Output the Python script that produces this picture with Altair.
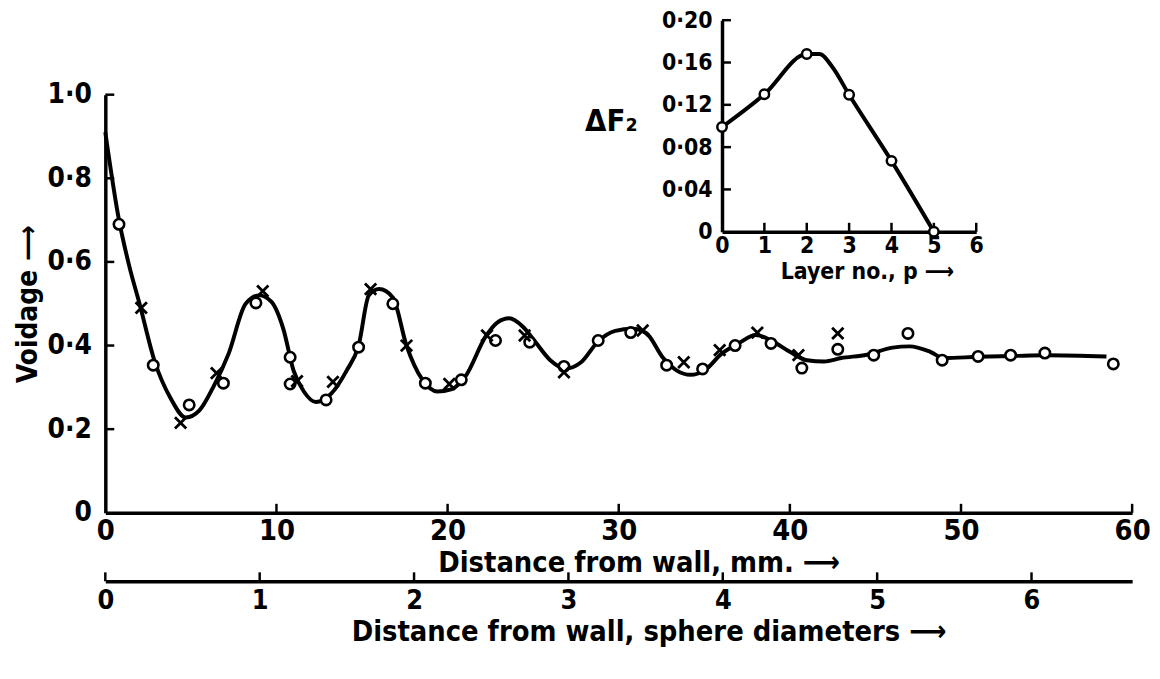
import altair as alt
import pandas as pd

# ---------------- data ----------------
curve_x = [0.0, 0.8, 1.4, 2.0, 2.9, 3.8, 4.7, 5.5, 6.3, 7.2, 8.2, 9.0, 9.7, 10.4,
           11.0, 11.6, 12.3, 13.2, 14.1, 14.8, 15.4, 16.0, 16.8, 17.6, 18.5, 19.4, 20.2,
           21.1, 22.2, 22.9, 23.6, 24.4, 25.1, 26.0, 26.9, 27.8, 28.8, 29.8, 30.8, 31.6,
           32.6, 33.4, 34.2, 35.0, 36.0, 37.0, 38.0, 39.0, 40.0, 41.0, 42.0, 43.0, 44.5,
           46.0, 47.0, 48.2, 49.0, 51.0, 53.0, 55.0, 58.5]
curve_y = [0.91, 0.70, 0.59, 0.50, 0.36, 0.275, 0.228, 0.245, 0.30, 0.38, 0.50, 0.52,
           0.505, 0.44, 0.34, 0.29, 0.265, 0.285, 0.34, 0.40, 0.52, 0.535, 0.515, 0.40,
           0.32, 0.29, 0.295, 0.33, 0.42, 0.455, 0.465, 0.445, 0.41, 0.365, 0.345, 0.36,
           0.41, 0.435, 0.44, 0.43, 0.37, 0.34, 0.33, 0.34, 0.38, 0.405, 0.425, 0.41,
           0.385, 0.365, 0.362, 0.37, 0.378, 0.395, 0.398, 0.385, 0.37, 0.373, 0.375,
           0.377, 0.374]

circle_x = [0.8, 2.8, 4.9, 6.9, 8.8, 10.8, 10.8, 12.9, 14.8, 16.8, 18.7, 20.8, 22.8, 24.8,
            26.8, 28.8, 30.7, 32.8, 34.9, 36.8, 38.9, 40.7, 42.8, 44.9, 46.9, 48.9, 51.0,
            52.9, 54.9, 58.9]
circle_y = [0.69, 0.353, 0.258, 0.31, 0.502, 0.372, 0.308, 0.27, 0.396, 0.50, 0.31, 0.318,
            0.412, 0.408, 0.35, 0.412, 0.431, 0.353, 0.344, 0.40, 0.405, 0.346, 0.391,
            0.377, 0.429, 0.365, 0.374, 0.377, 0.382, 0.356]

cross_x = [2.1, 4.4, 6.5, 9.2, 11.2, 13.3, 15.5, 17.6, 20.1, 22.3, 24.5, 26.8, 31.4, 33.8,
           35.9, 38.1, 40.5, 42.8]
cross_y = [0.49, 0.215, 0.334, 0.53, 0.315, 0.313, 0.535, 0.40, 0.308, 0.424, 0.424, 0.336,
           0.436, 0.36, 0.389, 0.431, 0.377, 0.429]

mm_ticks = [0, 10, 20, 30, 40, 50, 60]
voidage_ticks = [0, 0.2, 0.4, 0.6, 0.8, 1.0]
sphere_ticks = [0, 1, 2, 3, 4, 5, 6]
MM_PER_DIAMETER = 9.02

layer_p = [0, 1, 2, 3, 4, 5]
layer_dF = [0.099, 0.130, 0.168, 0.1295, 0.067, 0.0]
inset_curve_p = [0, 1, 2, 2.3, 2.6, 3, 4, 5]
inset_curve_dF = [0.099, 0.130, 0.168, 0.168, 0.156, 0.1295, 0.067, 0.0]
inset_p_ticks = [0, 1, 2, 3, 4, 5, 6]
inset_dF_ticks = [0, 0.04, 0.08, 0.12, 0.16, 0.20]

# ---------------- layout / style ----------------
W, H = 1034, 421
FONT = "Liberation Sans Narrow, DejaVu Sans Condensed, Liberation Sans, sans-serif"
INK = "black"
AXW = 3.5
TICK_PX = 9

curve_df = pd.DataFrame({"x": curve_x, "y": curve_y})
circ_df = pd.DataFrame({"x": circle_x, "y": circle_y})
cross_df = pd.DataFrame({"x": cross_x, "y": cross_y})
xt_df = pd.DataFrame({"x": mm_ticks[1:]})
yt_df = pd.DataFrame({"y": voidage_ticks[1:]})
sp_df = pd.DataFrame({"s": sphere_ticks})
ins_pts = pd.DataFrame({"p": layer_p, "d": layer_dF})
ins_curve = pd.DataFrame({"p": inset_curve_p, "d": inset_curve_dF})
ins_xt = pd.DataFrame({"p": inset_p_ticks[1:]})
ins_yt = pd.DataFrame({"d": inset_dF_ticks[1:]})

def axis_common(**kw):
    base = dict(grid=False, ticks=False, tickSize=0, domainColor=INK, domainWidth=AXW,
                labelFont=FONT, labelFontWeight="bold", labelColor=INK,
                titleFont=FONT, titleFontWeight="bold", titleColor=INK)
    base.update(kw)
    return alt.Axis(**base)

xscale = alt.Scale(domain=[0, 60], nice=False, zero=False)
yscale = alt.Scale(domain=[0, 1], nice=False)

xaxis = axis_common(orient="bottom", values=mm_ticks, format="d", labelFontSize=29,
                    labelPadding=4, title="Distance from wall, mm. ⟶", titleFontSize=29,
                    titlePadding=3, labelFlush=False, titleX=W / 2 + 20)
yaxis = axis_common(orient="left", values=voidage_ticks, labelFontSize=28, labelPadding=14,
                    labelExpr="datum.value == 0 ? '0' : replace(format(datum.value, '.1f'), '.', '·')",
                    title="Voidage ⟶", titleFontSize=28, titlePadding=5)

X = alt.X("x:Q", scale=xscale, axis=xaxis)
Y = alt.Y("y:Q", scale=yscale, axis=yaxis)

line = alt.Chart(curve_df).mark_line(color=INK, strokeWidth=4, interpolate="monotone").encode(x=X, y=Y)
circles = alt.Chart(circ_df).mark_point(shape="circle", size=110, fill="white", fillOpacity=1,
                                        stroke=INK, strokeWidth=2.6, opacity=1).encode(x=X, y=Y)
crosses = alt.Chart(cross_df).mark_point(shape="M -1 -1 L 1 1 M 1 -1 L -1 1", size=130,
                                         filled=False, stroke=INK, strokeWidth=2.8,
                                         opacity=1).encode(x=X, y=Y)
xticks = alt.Chart(xt_df).mark_rule(color=INK, strokeWidth=2.5).encode(
    x=X, y=alt.YDatum(0, scale=yscale, axis=yaxis), y2=alt.Y2Datum(TICK_PX / H))
yticks = alt.Chart(yt_df).mark_rule(color=INK, strokeWidth=2.5).encode(
    y=Y, x=alt.XDatum(0, scale=xscale, axis=xaxis), x2=alt.X2Datum(TICK_PX * 60 / W))

main = alt.layer(line, xticks, yticks, circles, crosses)

# second (sphere diameter) axis
SP_OFF = 69
sp_scale = alt.Scale(domain=[0, 60 / MM_PER_DIAMETER], nice=False, zero=False)
sp_axis = axis_common(orient="bottom", offset=SP_OFF, values=sphere_ticks, format="d",
                      labelFontSize=27, labelPadding=6, labelFlush=False,
                      title="Distance from wall, sphere diameters ⟶", titleFontSize=29,
                      titlePadding=5, titleX=W / 2 + 30)
sphere = alt.Chart(sp_df).mark_rule(color=INK, strokeWidth=2.5).encode(
    x=alt.X("s:Q", scale=sp_scale, axis=sp_axis),
    y=alt.YDatum(-SP_OFF / H, scale=alt.Scale(domain=[0, 1], nice=False), axis=None),
    y2=alt.Y2Datum((-SP_OFF + TICK_PX) / H),
)

# inset
IX0, IX1 = 621, 877
IY0, IY1 = 138, -75
ix_scale = alt.Scale(domain=[0, 6], range=[IX0, IX1], nice=False, zero=False)
iy_scale = alt.Scale(domain=[0, 0.2], range=[IY0, IY1], nice=False, zero=False)
ix_axis = axis_common(orient="bottom", offset=IY0 - H, values=inset_p_ticks, format="d",
                      labelFontSize=23, labelPadding=3, labelFlush=False,
                      title="Layer no., p ⟶", titleFontSize=23, titlePadding=3,
                      titleX=(IX0 + IX1) / 2 + 18)
iy_axis = axis_common(orient="left", offset=-IX0, values=inset_dF_ticks, labelFontSize=23,
                      labelPadding=10,
                      labelExpr="datum.value == 0 ? '0' : replace(format(datum.value, '.2f'), '.', '·')",
                      title="ΔF₂", titleFontSize=31, titleAngle=0, titleAlign="center",
                      titleBaseline="middle", titleX=-112, titleY=27)
IXE = alt.X("p:Q", scale=ix_scale, axis=ix_axis)
IYE = alt.Y("d:Q", scale=iy_scale, axis=iy_axis)

iline = alt.Chart(ins_curve).mark_line(color=INK, strokeWidth=4, interpolate="monotone").encode(x=IXE, y=IYE)
ipts = alt.Chart(ins_pts).mark_point(shape="circle", size=90, fill="white", fillOpacity=1,
                                     stroke=INK, strokeWidth=2.5, opacity=1).encode(x=IXE, y=IYE)
ixt = alt.Chart(ins_xt).mark_rule(color=INK, strokeWidth=2.5).encode(
    x=IXE, y=alt.YDatum(0, scale=iy_scale, axis=iy_axis), y2=alt.Y2Datum(0.2 * TICK_PX / (IY0 - IY1)))
iyt = alt.Chart(ins_yt).mark_rule(color=INK, strokeWidth=2.5).encode(
    y=IYE, x=alt.XDatum(0, scale=ix_scale, axis=ix_axis), x2=alt.X2Datum(6 * TICK_PX / (IX1 - IX0)))

inset = alt.layer(iline, ixt, iyt, ipts)

chart = alt.layer(main, sphere, inset).resolve_scale(
    x="independent", y="independent"
).properties(
    width=W, height=H,
    autosize=alt.AutoSizeParams(type="none"),
    padding={"left": 98, "top": 85, "right": 20, "bottom": 150},
    background="white",
).configure_view(stroke=None)

chart.save("out.html", embed_options={"renderer": "svg", "actions": False})
